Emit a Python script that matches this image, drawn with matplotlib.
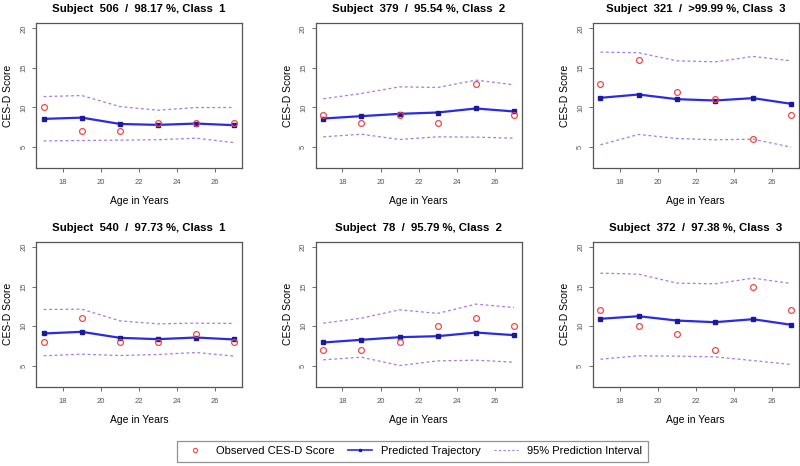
import matplotlib
matplotlib.use("Agg")
import matplotlib.pyplot as plt
from matplotlib.lines import Line2D

plt.rcParams['font.family'] = ['Liberation Sans', 'DejaVu Sans']

# --- datos ---
ages = [17, 19, 21, 23, 25, 27]

titles = [
    "Subject  506  /  98.17 %, Class  1",
    "Subject  379  /  95.54 %, Class  2",
    "Subject  321  /  >99.99 %, Class  3",
    "Subject  540  /  97.73 %, Class  1",
    "Subject  78  /  95.79 %, Class  2",
    "Subject  372  /  97.38 %, Class  3",
]

observed = [
    [10, 7, 7, 8, 8, 8],
    [9, 8, 9, 8, 13, 9],
    [13, 16, 12, 11, 6, 9],
    [8, 11, 8, 8, 9, 8],
    [7, 7, 8, 10, 11, 10],
    [12, 10, 9, 7, 15, 12],
]

predicted = [
    [8.54, 8.70, 7.90, 7.78, 7.95, 7.74],
    [8.59, 8.89, 9.18, 9.35, 9.86, 9.48],
    [11.21, 11.63, 11.04, 10.87, 11.17, 10.45],
    [9.06, 9.27, 8.51, 8.34, 8.55, 8.30],
    [7.92, 8.26, 8.59, 8.72, 9.18, 8.85],
    [10.92, 11.25, 10.70, 10.49, 10.87, 10.16],
]

upper = [
    [11.37, 11.50, 10.10, 9.64, 9.98, 9.98],
    [11.09, 11.76, 12.60, 12.52, 13.45, 12.86],
    [17.00, 16.92, 15.90, 15.77, 16.45, 15.90],
    [12.10, 12.14, 10.66, 10.28, 10.37, 10.33],
    [10.37, 11.00, 12.06, 11.60, 12.78, 12.35],
    [16.70, 16.58, 15.44, 15.35, 16.07, 15.40],
]

lower = [
    [5.75, 5.80, 5.85, 5.90, 6.10, 5.53],
    [6.27, 6.60, 5.93, 6.27, 6.23, 6.10],
    [5.26, 6.57, 6.06, 5.89, 5.97, 4.96],
    [6.23, 6.44, 6.27, 6.40, 6.65, 6.19],
    [5.72, 6.06, 5.00, 5.59, 5.68, 5.42],
    [5.80, 6.23, 6.19, 6.10, 5.63, 5.13],
]

col_obs = '#f04848'
col_pred = '#2a2ae8'
col_mark = '#1a1a9a'
col_pi = '#a27ae8'

fig = plt.figure(figsize=(8, 4.66), dpi=100)

lefts = [0.045, 0.3946, 0.741]
bottoms = [0.6395, 0.1702]
w, h = 0.2575, 0.311

for i in range(6):
    r, c = divmod(i, 3)
    ax = fig.add_axes([lefts[c], bottoms[r], w, h])
    ax.plot(ages, upper[i], ls=(0, (2.2, 2.2)), color=col_pi, lw=0.9)
    ax.plot(ages, lower[i], ls=(0, (2.2, 2.2)), color=col_pi, lw=0.9)
    ax.plot(ages, predicted[i], color=col_pred, lw=1.6, marker='s',
            markersize=2.2, markerfacecolor=col_mark, markeredgecolor=col_mark)
    ax.plot(ages, observed[i], ls='none', marker='o', markersize=4.2,
            markerfacecolor='none', markeredgecolor=col_obs, markeredgewidth=0.9)

    ax.set_xlim(16.6, 27.4)
    ax.set_ylim(2.32, 20.68)
    ax.set_xticks([18, 20, 22, 24, 26])
    ax.set_yticks([5, 10, 15, 20])
    ax.tick_params(axis='both', labelsize=5.5, colors='#555555', length=3.2, width=0.6)
    ax.tick_params(axis='x', pad=5)
    ax.tick_params(axis='y', pad=3)
    for lab in ax.get_yticklabels():
        lab.set_rotation(90)
        lab.set_va('center')
    for s in ax.spines.values():
        s.set_color('#555555')
        s.set_linewidth(0.9)

    ax.set_title(titles[i], fontsize=8.2, fontweight='bold', pad=8)
    ax.set_xlabel('Age in Years', fontsize=7.5, labelpad=7)
    ax.set_ylabel('CES-D Score', fontsize=7.5, labelpad=5)

handles = [
    Line2D([], [], ls='none', marker='o', markersize=3, markerfacecolor='none',
           markeredgecolor=col_obs, markeredgewidth=0.8),
    Line2D([], [], color=col_pred, lw=1.2, marker='s', markersize=2,
           markerfacecolor=col_mark, markeredgecolor=col_mark),
    Line2D([], [], color=col_pi, lw=0.8, ls=(0, (2, 2))),
]
labels = ['Observed CES-D Score', 'Predicted Trajectory', '95% Prediction Interval']
leg = fig.legend(handles, labels, loc='center', bbox_to_anchor=(0.5154, 0.032),
                 ncol=3, fontsize=8, frameon=True, fancybox=False,
                 handlelength=2.2, columnspacing=1.2, borderpad=0.5)
leg.get_frame().set_edgecolor('#777777')
leg.get_frame().set_linewidth(0.9)

fig.savefig('out.png', dpi=100)
